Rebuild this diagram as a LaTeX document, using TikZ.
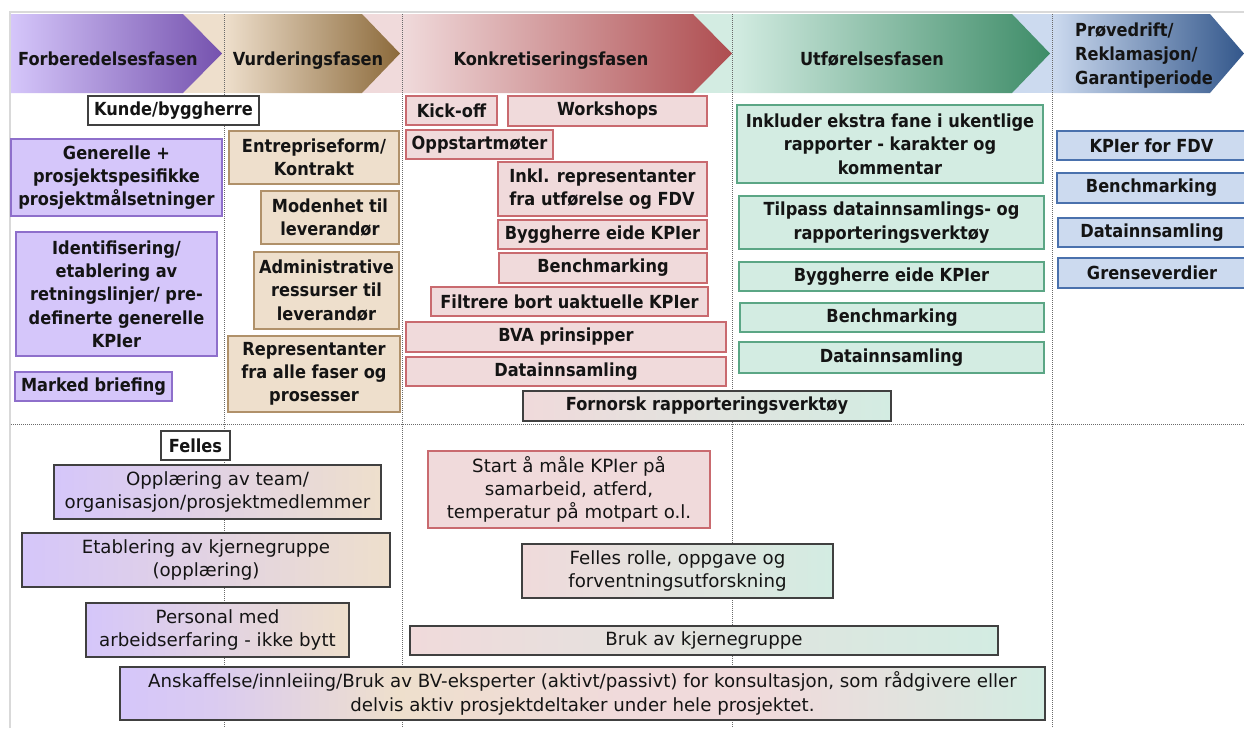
\documentclass[tikz,border=0pt]{standalone}
\usepackage{fontspec}
\setmainfont{DejaVu Sans Condensed}
\newfontfamily\vanlig{DejaVu Sans}

\definecolor{rammegraa}{HTML}{D9D9D9}
\definecolor{skillegraa}{HTML}{6A6A6A}
\definecolor{kantgraa}{HTML}{404040}
\definecolor{tekst}{HTML}{141414}
\definecolor{lillaLys}{HTML}{D5C6FA}
\definecolor{lillaKant}{HTML}{8E6FCB}
\definecolor{lillaMork}{HTML}{7552AE}
\definecolor{beigeLys}{HTML}{EEDFCC}
\definecolor{beigeKant}{HTML}{B0916A}
\definecolor{brunMork}{HTML}{8C6A3B}
\definecolor{rosaLys}{HTML}{F0DADB}
\definecolor{rosaKant}{HTML}{C96A6F}
\definecolor{rodMork}{HTML}{AE4D50}
\definecolor{gronnLys}{HTML}{D3ECE2}
\definecolor{gronnKant}{HTML}{5BA685}
\definecolor{gronnMork}{HTML}{3E8C68}
\definecolor{blaaLys}{HTML}{CCDAEF}
\definecolor{blaaKant}{HTML}{4A71AD}
\definecolor{blaaMork}{HTML}{33578B}

% farge gjennom alle fasene, fra venstre mot hoeyre
\pgfdeclarehorizontalshading{allefaser}{100bp}{color(0bp)=(lillaLys); color(25bp)=(lillaLys);
  color(30bp)=(lillaLys!80!beigeLys); color(40bp)=(beigeLys); color(52bp)=(rosaLys);
  color(60bp)=(rosaLys); color(75bp)=(gronnLys); color(100bp)=(gronnLys)}

% boks mellom to hjoerner: stil, navn, x1, y1, x2, y2, tekst
\newcommand{\boks}[7]{%
  \node[#1, minimum width={#5-#3}, minimum height={#6-#4}] (#2)
    at ({(#3+#5)/2},{(#4+#6)/2}) {#7};}

\tikzset{
  fase/.style={text=tekst, font=\bfseries\fontsize{18}{24}\selectfont, inner sep=0pt},
  skille/.style={skillegraa, densely dotted, line width=1pt},
  boks/.style={draw, line width=1.2pt, align=center, inner sep=0pt, text=tekst,
    font=\bfseries\fontsize{18}{23.3}\selectfont},
  tynn/.style={boks, font=\vanlig\fontsize{18.2}{23.3}\selectfont},
  hvit/.style={boks, fill=white, draw=kantgraa},
  lilla/.style={boks, fill=lillaLys, draw=lillaKant},
  beige/.style={boks, fill=beigeLys, draw=beigeKant},
  rosa/.style={boks, fill=rosaLys, draw=rosaKant},
  gronn/.style={boks, fill=gronnLys, draw=gronnKant},
  blaa/.style={boks, fill=blaaLys, draw=blaaKant},
  rosagronn/.style={boks, draw=kantgraa, left color=rosaLys, right color=gronnLys},
  lillabeige/.style={tynn, draw=kantgraa, left color=lillaLys, right color=beigeLys},
  rosatynn/.style={tynn, fill=rosaLys, draw=rosaKant},
  rosagronntynn/.style={tynn, draw=kantgraa, left color=rosaLys, right color=gronnLys},
  faseboks/.style={tynn, draw=kantgraa, shade, shading=allefaser}
}

\begin{document}
\begin{tikzpicture}[x=1pt,y=-1pt]
  \useasboundingbox (0,0) rectangle (1244,728);
  \fill[white] (0,0) rectangle (1244,728);
  \draw[rammegraa, line width=2pt] (10,728) -- (10,12) -- (1244,12);

  % bakgrunn bak pilspissene
  \fill[beigeLys] (183,14) rectangle (224,93);
  \fill[rosaLys] (362,14) rectangle (402,93);
  \fill[gronnLys] (693,14) rectangle (732,93);
  \fill[blaaLys] (1012,14) rectangle (1052,93);

  % fasepilene
  \shade[left color=lillaLys, right color=lillaMork]
    (11,14) -- (183,14) -- (222,53.5) -- (183,93) -- (11,93) -- cycle;
  \shade[left color=beigeLys, right color=brunMork]
    (224,14) -- (362,14) -- (400,53.5) -- (362,93) -- (224,93) -- cycle;
  \shade[left color=rosaLys, right color=rodMork]
    (402,14) -- (693,14) -- (732,53.5) -- (693,93) -- (402,93) -- cycle;
  \shade[left color=gronnLys, right color=gronnMork]
    (732,14) -- (1012,14) -- (1050,53.5) -- (1012,93) -- (732,93) -- cycle;
  \shade[left color=blaaLys, right color=blaaMork]
    (1052,14) -- (1210,14) -- (1244,53.5) -- (1210,93) -- (1052,93) -- cycle;

  \node[fase, anchor=base] (f1) at (108,65) {Forberedelsesfasen};
  \node[fase, anchor=base] (f2) at (308,65) {Vurderingsfasen};
  \node[fase, anchor=base] (f3) at (551,65) {Konkretiseringsfasen};
  \node[fase, anchor=base] (f4) at (872,65) {Utførelsesfasen};
  \node[fase, anchor=north west, align=left] (f5) at (1075,23)
    {Prøvedrift/\\Reklamasjon/\\Garantiperiode};

  % skillelinjer mellom fasene
  \draw[skille] (224,14) -- (224,728);
  \draw[skille] (402,14) -- (402,728);
  \draw[skille] (732,14) -- (732,728);
  \draw[skille] (1052,14) -- (1052,728);
  \draw[skille] (11,424) -- (1244,424);

  % kunde/byggherre
  \boks{hvit}{kunde}{88}{96}{259}{125}{Kunde/byggherre}
  \boks{lilla}{maal}{11}{139}{222}{216}{Generelle +\\prosjektspesifikke\\prosjektmålsetninger}
  \boks{lilla}{retning}{16}{232}{217}{356}{Identifisering/\\etablering av\\retningslinjer/ pre-\\definerte generelle\\KPIer}
  \boks{lilla}{marked}{15}{372}{172}{401}{Marked briefing}
  \boks{beige}{kontrakt}{229}{131}{399}{184}{Entrepriseform/\\Kontrakt}
  \boks{beige}{modenhet}{261}{191}{399}{244}{Modenhet til\\leverandør}
  \boks{beige}{admin}{254}{252}{399}{329}{Administrative\\ressurser til\\leverandør}
  \boks{beige}{repr}{228}{336}{400}{412}{Representanter\\fra alle faser og\\prosesser}
  \boks{rosa}{kickoff}{406}{96}{497}{125}{Kick-off}
  \boks{rosa}{workshop}{508}{96}{707}{126}{Workshops}
  \boks{rosa}{oppstart}{406}{130}{553}{159}{Oppstartmøter}
  \boks{rosa, align=left}{inkl}{498}{162}{707}{216}{Inkl. representanter\\fra utførelse og FDV}
  \boks{rosa}{eideK}{498}{220}{707}{249}{Byggherre eide KPIer}
  \boks{rosa}{benchK}{499}{253}{707}{283}{Benchmarking}
  \boks{rosa}{filtrere}{431}{287}{708}{316}{Filtrere bort uaktuelle KPIer}
  \boks{rosa}{bva}{406}{322}{726}{352}{BVA prinsipper}
  \boks{rosa}{dataK}{406}{357}{726}{386}{Datainnsamling}
  \boks{rosagronn}{fornorsk}{523}{391}{891}{421}{Fornorsk rapporteringsverktøy}
  \boks{gronn}{fane}{737}{105}{1043}{183}{Inkluder ekstra fane i ukentlige\\rapporter - karakter og\\kommentar}
  \boks{gronn}{tilpass}{739}{196}{1044}{249}{Tilpass datainnsamlings- og\\rapporteringsverktøy}
  \boks{gronn}{eideU}{739}{262}{1044}{291}{Byggherre eide KPIer}
  \boks{gronn}{benchU}{740}{303}{1044}{332}{Benchmarking}
  \boks{gronn}{dataU}{739}{342}{1044}{373}{Datainnsamling}
  \boks{blaa}{fdv}{1057}{131}{1246}{160}{KPIer for FDV}
  \boks{blaa}{benchP}{1057}{173}{1246}{203}{Benchmarking}
  \boks{blaa}{dataP}{1058}{218}{1246}{247}{Datainnsamling}
  \boks{blaa}{grense}{1058}{258}{1246}{288}{Grenseverdier}

  % felles
  \boks{hvit}{felles}{161}{431}{230}{460}{Felles}
  \boks{lillabeige}{opplaering}{54}{465}{381}{519}{Opplæring av team/\\organisasjon/prosjektmedlemmer}
  \boks{lillabeige}{kjerne}{22}{533}{390}{587}{Etablering av kjernegruppe\\(opplæring)}
  \boks{lillabeige}{personal}{86}{603}{349}{657}{Personal med\\arbeidserfaring - ikke bytt}
  \boks{rosatynn}{maale}{428}{451}{710}{528}{Start å måle KPIer på\\samarbeid, atferd,\\temperatur på motpart o.l.}
  \boks{rosagronntynn}{rolle}{522}{544}{833}{598}{Felles rolle, oppgave og\\forventningsutforskning}
  \boks{rosagronntynn}{bruk}{410}{626}{998}{655}{Bruk av kjernegruppe}
  \boks{faseboks}{ekspert}{120}{667}{1045}{720}{Anskaffelse/innleiing/Bruk av BV-eksperter (aktivt/passivt) for konsultasjon, som rådgivere eller\\delvis aktiv prosjektdeltaker under hele prosjektet.}
\end{tikzpicture}
\end{document}
